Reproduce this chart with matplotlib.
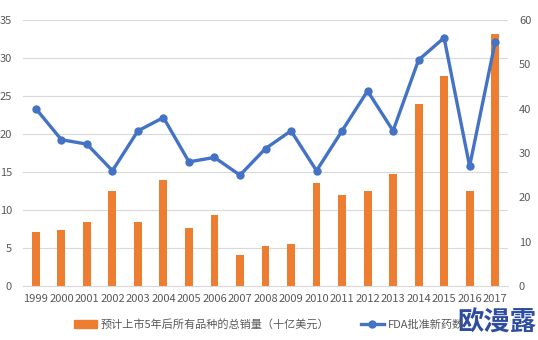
import matplotlib
matplotlib.use("Agg")
import matplotlib.pyplot as plt
from matplotlib.patches import Patch
from matplotlib.lines import Line2D

plt.rcParams['font.family'] = ['Noto Sans CJK SC', 'DejaVu Sans']

years = [str(y) for y in range(1999, 2018)]
sales = [7.1, 7.4, 8.4, 12.5, 8.4, 13.9, 7.6, 9.3, 4.1, 5.3, 5.5,
         13.6, 12.0, 12.5, 14.7, 24.0, 27.6, 12.5, 33.2]
approvals = [40, 33, 32, 26, 35, 38, 28, 29, 25, 31, 35,
             26, 35, 44, 35, 51, 56, 27, 55]

bar_label = '预计上市5年后所有品种的总销量（十亿美元）'
line_label = 'FDA批准新药数'

orange = '#ED7D31'
blue = '#4472C4'
grey = '#595959'

fig = plt.figure(figsize=(5.38, 3.4), dpi=100)
ax = fig.add_axes([0.043, 0.159, 0.901, 0.782])
x = list(range(len(years)))
ax.bar(x, sales, width=0.31, color=orange, zorder=2)
ax.set_ylim(0, 35)
ax.set_yticks(range(0, 36, 5))
ax.set_xlim(-0.5, len(years) - 0.5)
ax.set_xticks(x)
ax.set_xticklabels(years)
ax.grid(axis='y', color='#D9D9D9', linewidth=0.8, zorder=0)
for s in ['top', 'right', 'left']:
    ax.spines[s].set_visible(False)
ax.spines['bottom'].set_color('#D9D9D9')
ax.tick_params(length=0, labelsize=8, colors=grey)
ax.tick_params(axis='y', pad=8)
ax.tick_params(axis='x', pad=6)

ax2 = ax.twinx()
ax2.plot(x, approvals, color=blue, linewidth=2.4, marker='o', markersize=5, zorder=3)
ax2.set_ylim(0, 60)
ax2.set_yticks(range(0, 61, 10))
for s in ax2.spines.values():
    s.set_visible(False)
ax2.tick_params(length=0, labelsize=8, colors=grey, pad=8)

handles = [Patch(color=orange),
           Line2D([], [], color=blue, linewidth=2.4, marker='o', markersize=5)]
fig.legend(handles, [bar_label, line_label], loc='lower center',
           bbox_to_anchor=(0.5, 0.0), ncol=2, frameon=False, fontsize=8,
           labelcolor=grey, columnspacing=2.9, handlelength=2.0,
           handletextpad=0.35)

fig.text(0.998, 0.01, '欧漫露', ha='right', va='bottom', fontsize=19,
         fontweight='bold', color='#2E4DA0')

fig.savefig('out.png', dpi=100)
